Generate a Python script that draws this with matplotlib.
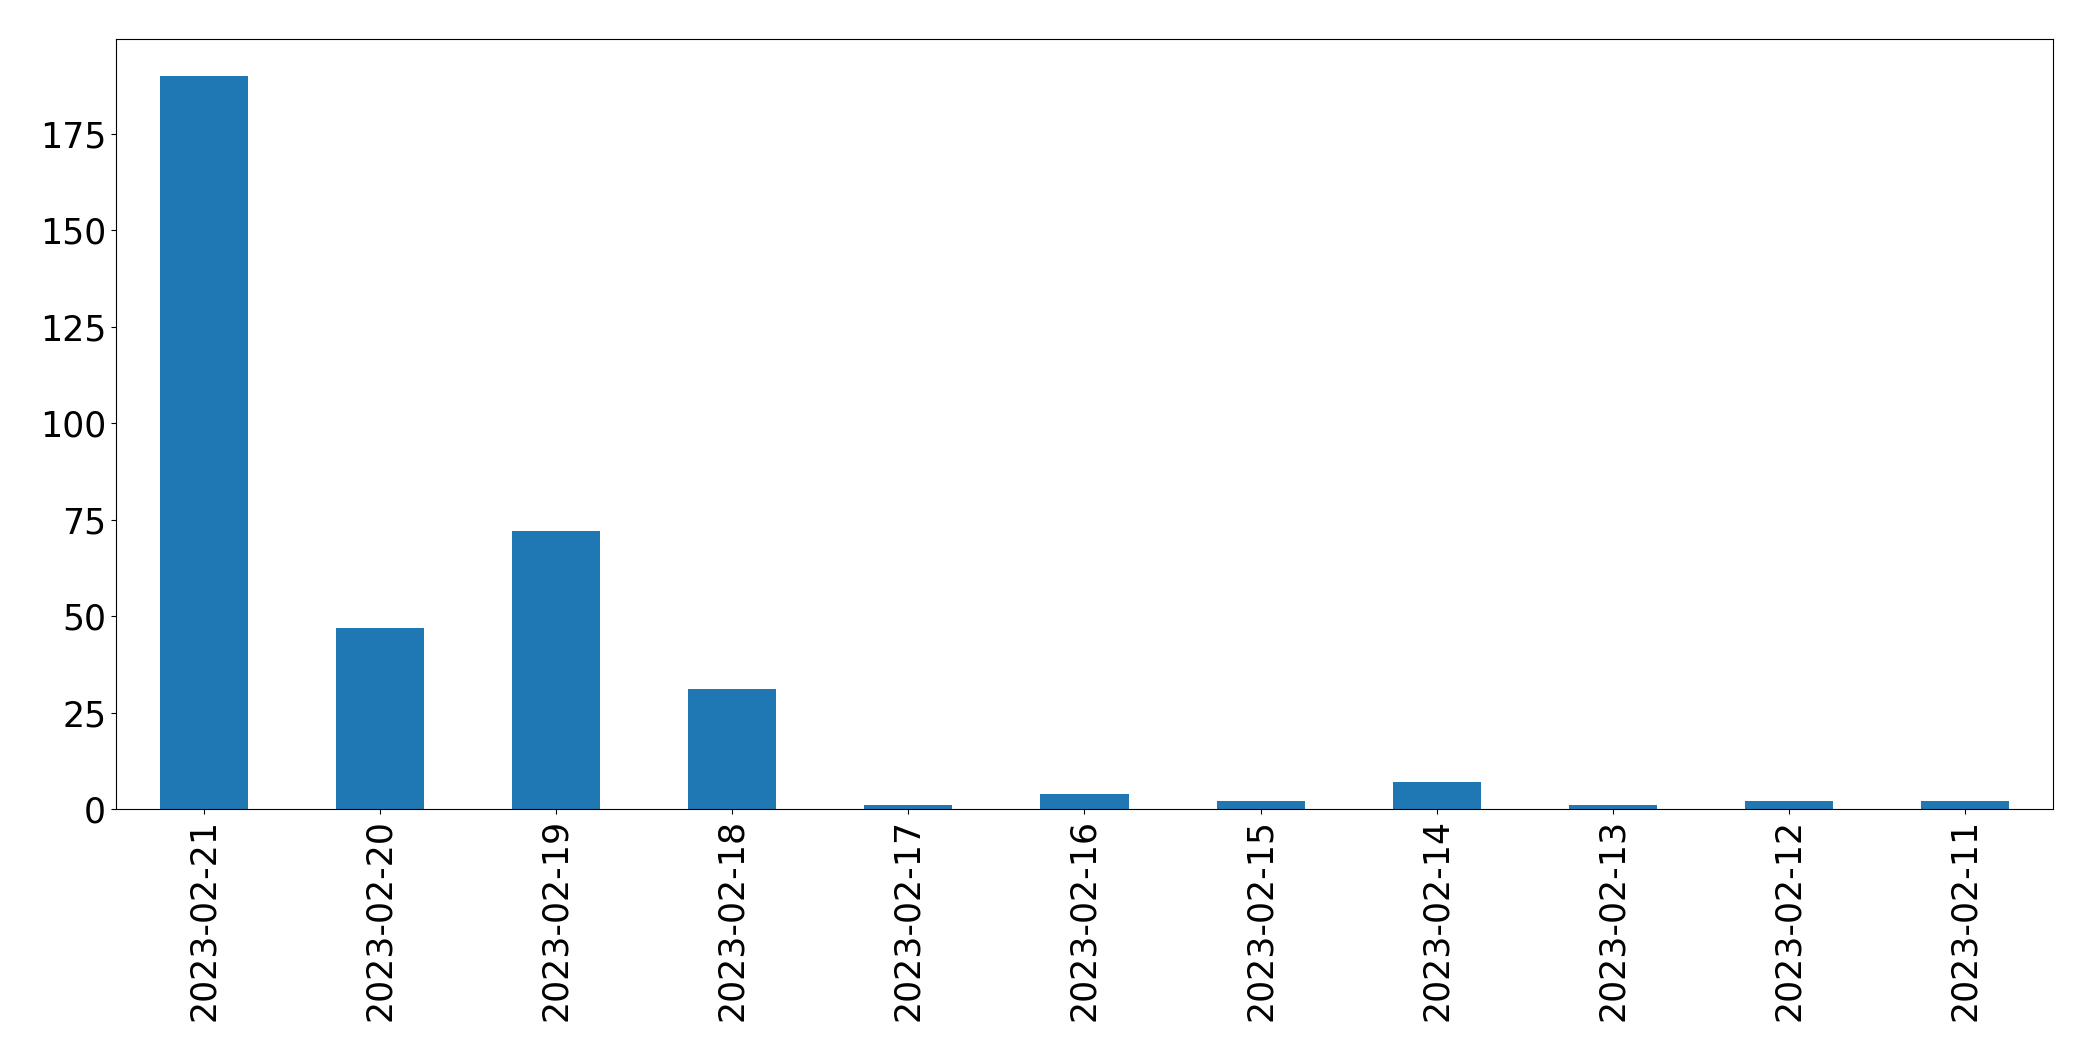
import matplotlib
matplotlib.use("Agg")
import matplotlib.pyplot as plt
import numpy as np

# daily counts, newest first
dates = ['2023-02-21', '2023-02-20', '2023-02-19', '2023-02-18', '2023-02-17',
         '2023-02-16', '2023-02-15', '2023-02-14', '2023-02-13', '2023-02-12',
         '2023-02-11']
counts = [190, 47, 72, 31, 1, 4, 2, 7, 1, 2, 2]

fig = plt.figure(figsize=(20.93, 10.61), dpi=100)
ax = fig.add_axes([0.0554, 0.2375, 0.9255, 0.7258])

x = np.arange(len(dates))
ax.bar(x, counts, width=0.5, color='#1f77b4')
ax.set_xlim(-0.5, len(dates) - 0.5)
ax.set_xticks(x)
ax.set_xticklabels(dates, rotation=90)
ax.tick_params(axis='both', labelsize=25)

fig.savefig('out.png', dpi=100)
